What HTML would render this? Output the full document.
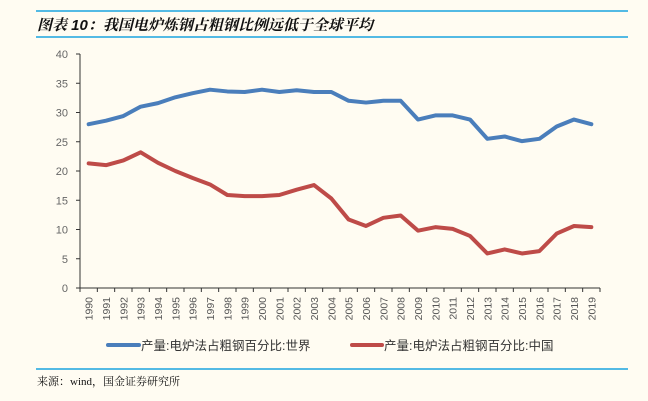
<!DOCTYPE html>
<html><head><meta charset="utf-8"><style>
body{margin:0;background:#fffcf2;}
svg{display:block;font-family:"Liberation Sans","Noto Sans CJK SC",sans-serif;}
</style></head><body>
<svg width="648" height="401">
<rect width="648" height="401" fill="#fffcf2"/>
<line x1="36" y1="11" x2="628" y2="11" stroke="#1aa3e0" stroke-width="1.5"/>
<text x="37" y="30" font-size="15" font-weight="bold" font-style="italic" fill="#111" font-family="'Liberation Sans','Noto Serif CJK SC',serif">图表 10：我国电炉炼钢占粗钢比例远低于全球平均</text>
<line x1="36" y1="37" x2="628" y2="37" stroke="#1aa3e0" stroke-width="1.5"/>
<g id="axes"></g>
<g id="series"></g>
<g>
<line x1="108" y1="345" x2="139" y2="345" stroke="#4a7ebb" stroke-width="4" stroke-linecap="round"/>
<text x="141" y="350" font-size="12.5" fill="#333">产量:电炉法占粗钢百分比:世界</text>
<line x1="352" y1="345" x2="382" y2="345" stroke="#be4b48" stroke-width="4" stroke-linecap="round"/>
<text x="384" y="350" font-size="12.5" fill="#333">产量:电炉法占粗钢百分比:中国</text>
</g>
<line x1="36" y1="369" x2="628" y2="369" stroke="#1aa3e0" stroke-width="1.5"/>
<text x="37" y="385" font-size="11" fill="#111" font-family="'Liberation Serif','Noto Serif CJK SC',serif">来源：wind，国金证券研究所</text>
</svg>
<script>
const years=[1990,1991,1992,1993,1994,1995,1996,1997,1998,1999,2000,2001,2002,2003,2004,2005,2006,2007,2008,2009,2010,2011,2012,2013,2014,2015,2016,2017,2018,2019];
const worldValues=[28,28.6,29.4,31,31.6,32.6,33.3,33.9,33.6,33.5,33.9,33.5,33.8,33.5,33.5,32,31.7,32,32,28.8,29.5,29.5,28.8,25.5,25.9,25.1,25.5,27.6,28.8,28];
const chinaValues=[21.3,21,21.8,23.2,21.4,20,18.8,17.7,15.9,15.7,15.7,15.9,16.8,17.6,15.3,11.7,10.6,12,12.4,9.8,10.4,10.1,8.9,5.9,6.6,5.9,6.3,9.3,10.6,10.4];
const yTicks=[0,5,10,15,20,25,30,35,40];
const NS='http://www.w3.org/2000/svg';
const X0=80,X1=600,Y0=288,Y1=54,YMAX=40;
const bw=(X1-X0)/years.length;
function xs(i){return X0+bw*(i+0.5);}
function ys(v){return Y0-(v/YMAX)*(Y0-Y1);}
function mk(t,a,p){const e=document.createElementNS(NS,t);for(const k in a)e.setAttribute(k,a[k]);p.appendChild(e);return e;}
const ax=document.getElementById('axes');
let e=mk('line',{x1:X0,y1:Y1,x2:X0,y2:Y0,stroke:'#333','stroke-width':1},ax);


e=mk('line',{x1:X0,y1:Y0,x2:X1,y2:Y0,stroke:'#333','stroke-width':1},ax);


yTicks.forEach(v=>{
 const y=ys(v);
 mk('line',{x1:X0-4,y1:y,x2:X0,y2:y,stroke:'#333'},ax);
 const t=mk('text',{x:X0-12,y:y+4,'font-size':11,fill:'#666','text-anchor':'end'},ax);
 t.textContent=v;
 
 
});
for(let i=0;i<=years.length;i++){const x=X0+bw*i;mk('line',{x1:x,y1:Y0,x2:x,y2:Y0+4,stroke:'#333'},ax);}
years.forEach((yr,i)=>{
 const x=xs(i)+4;
 const t=mk('text',{x:x,y:297,'font-size':10.5,fill:'#555','text-anchor':'end',transform:`rotate(-90 ${x} 297)`},ax);
 t.textContent=yr;
 
 
});
const sg=document.getElementById('series');
function line(vals,col,name){
 const p=mk('polyline',{points:vals.map((v,i)=>xs(i)+','+ys(v)).join(' '),fill:'none',stroke:col,'stroke-width':4,'stroke-linejoin':'round','stroke-linecap':'round'},sg);
 
 
}
line(worldValues,'#4a7ebb','world-line');
line(chinaValues,'#be4b48','china-line');
</script>
</body></html>
